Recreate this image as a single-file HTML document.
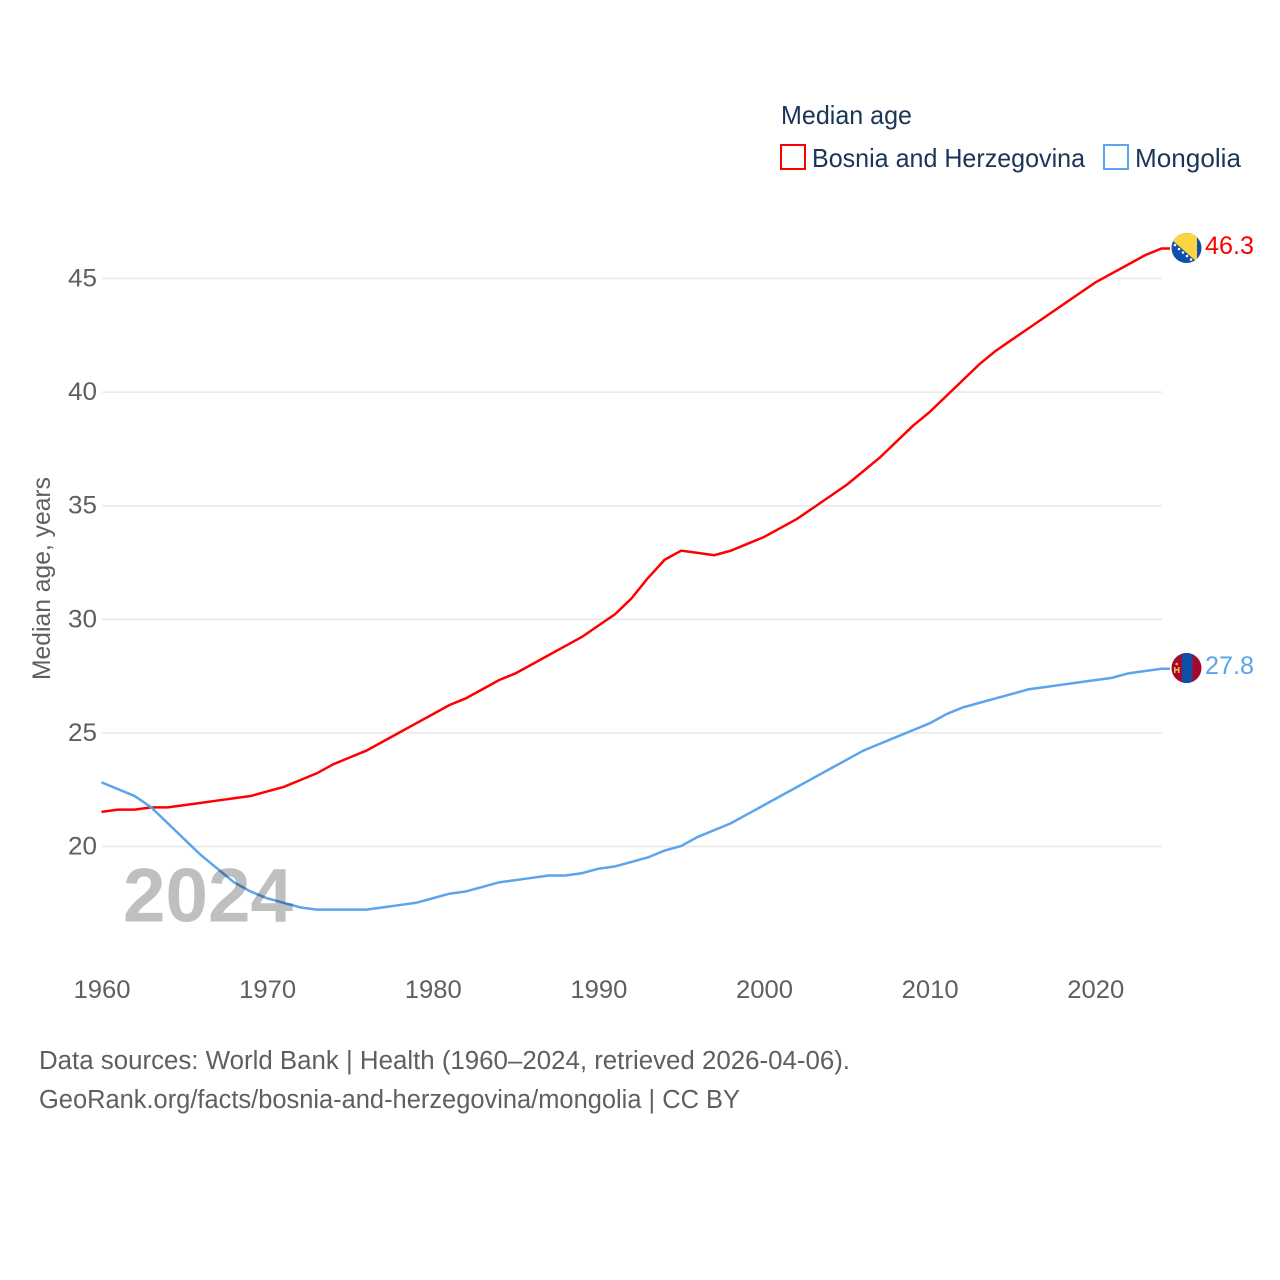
<!DOCTYPE html>
<html lang="en">
<head>
<meta charset="utf-8">
<title>Median age: Bosnia and Herzegovina and Mongolia</title>
<style>
html,body{margin:0;padding:0;background:#fff;}
svg{display:block;font-family:"Liberation Sans",sans-serif;}
</style>
</head>
<body>
<svg id="chart" xmlns="http://www.w3.org/2000/svg" width="1280" height="1280" viewBox="0 0 1280 1280">
  <rect x="0" y="0" width="1280" height="1280" fill="#fff"/>
  <g id="grid"></g>
  <g id="yticks"></g>
  <g id="xticks"></g>
  <text transform="translate(50,680) rotate(-90)" font-size="25" fill="#5f5f5f" textLength="203" lengthAdjust="spacingAndGlyphs">Median age, years</text>
  <g id="series"></g>
  <text x="123" y="921.500" font-size="76" font-weight="bold" fill="#bfbfbf" style="mix-blend-mode:multiply" textLength="170" lengthAdjust="spacingAndGlyphs">2024</text>

  <text x="781" y="124" font-size="26" fill="#1b3557" textLength="131" lengthAdjust="spacingAndGlyphs">Median age</text>
  <g>
    <rect x="781" y="145" width="24" height="24" fill="none" stroke="#ff0000" stroke-width="2"/>
    <text x="812" y="167" font-size="26" fill="#1b3557" textLength="273" lengthAdjust="spacingAndGlyphs">Bosnia and Herzegovina</text>
  </g>
  <g>
    <rect x="1104" y="145" width="24" height="24" fill="none" stroke="#5ba4ee" stroke-width="2"/>
    <text x="1135" y="167" font-size="26" fill="#1b3557" textLength="106" lengthAdjust="spacingAndGlyphs">Mongolia</text>
  </g>

  <defs>
    <clipPath id="clip-ba"><circle cx="1186.500" cy="248" r="15"/></clipPath>
    <clipPath id="clip-mn"><circle cx="1186.500" cy="668" r="15"/></clipPath>
  </defs>
  <g clip-path="url(#clip-ba)">
    <rect x="1171" y="233" width="31" height="30" fill="#0f4fa8"/>
    <polygon points="1172,233 1197,233 1197,262 1172,240" fill="#fdd33f"/>
    <g fill="#fff">
      <circle cx="1175" cy="245" r="1.300"/><circle cx="1179" cy="249" r="1.300"/><circle cx="1183" cy="252.500" r="1.300"/><circle cx="1187" cy="256" r="1.300"/><circle cx="1191" cy="259.500" r="1.300"/>
    </g>
  </g>
  <g clip-path="url(#clip-mn)">
    <rect x="1171" y="653" width="31" height="30" fill="#a50a2c"/>
    <rect x="1182" y="653" width="10.500" height="30" fill="#0f4fa8"/>
    <rect x="1174" y="667" width="1.500" height="6" fill="#e8c05a"/>
    <rect x="1178" y="667" width="1.500" height="6" fill="#e8c05a"/>
    <rect x="1175.500" y="669" width="2.500" height="1.500" fill="#e8c05a"/>
    <circle cx="1176.700" cy="664" r="1.300" fill="#e8c05a"/>
  </g>
  <text x="1205" y="254" font-size="25" fill="#ff0000" textLength="49" lengthAdjust="spacingAndGlyphs">46.3</text>
  <text x="1205" y="674" font-size="25" fill="#5ba4ee" textLength="49" lengthAdjust="spacingAndGlyphs">27.8</text>

  <text x="39" y="1069" font-size="25.500" fill="#5f5f5f" textLength="811" lengthAdjust="spacingAndGlyphs">Data sources: World Bank | Health (1960–2024, retrieved 2026-04-06).</text>
  <text x="39" y="1108" font-size="25.500" fill="#5f5f5f" textLength="701" lengthAdjust="spacingAndGlyphs">GeoRank.org/facts/bosnia-and-herzegovina/mongolia | CC BY</text>
</svg>
<script>
const years = [1960,1961,1962,1963,1964,1965,1966,1967,1968,1969,1970,1971,1972,1973,1974,1975,1976,1977,1978,1979,1980,1981,1982,1983,1984,1985,1986,1987,1988,1989,1990,1991,1992,1993,1994,1995,1996,1997,1998,1999,2000,2001,2002,2003,2004,2005,2006,2007,2008,2009,2010,2011,2012,2013,2014,2015,2016,2017,2018,2019,2020,2021,2022,2023,2024];
const bosniaValues = [21.5,21.6,21.6,21.7,21.7,21.8,21.9,22.0,22.1,22.2,22.4,22.6,22.9,23.2,23.6,23.9,24.2,24.6,25.0,25.4,25.8,26.2,26.5,26.9,27.3,27.6,28.0,28.4,28.8,29.2,29.7,30.2,30.9,31.8,32.6,33.0,32.9,32.8,33.0,33.3,33.6,34.0,34.4,34.9,35.4,35.9,36.5,37.1,37.8,38.5,39.1,39.8,40.5,41.2,41.8,42.3,42.8,43.3,43.8,44.3,44.8,45.2,45.6,46.0,46.3];
const mongoliaValues = [22.8,22.5,22.2,21.7,21.0,20.3,19.6,19.0,18.4,18.0,17.7,17.5,17.3,17.2,17.2,17.2,17.2,17.3,17.4,17.5,17.7,17.9,18.0,18.2,18.4,18.5,18.6,18.7,18.7,18.8,19.0,19.1,19.3,19.5,19.8,20.0,20.4,20.7,21.0,21.4,21.8,22.2,22.6,23.0,23.4,23.8,24.2,24.5,24.8,25.1,25.4,25.8,26.1,26.3,26.5,26.7,26.9,27.0,27.1,27.2,27.3,27.4,27.6,27.7,27.8];
const yTickValues = [20,25,30,35,40,45];
const xTickValues = [1960,1970,1980,1990,2000,2010,2020];

const NS = 'http://www.w3.org/2000/svg';
const xScale = function (year) { return 101.5 + (year - 1960) * 16.5625; };
const yScale = function (value) { return 278.5 + (45 - value) * 22.72; };

const gridGroup = document.getElementById('grid');
const yTickGroup = document.getElementById('yticks');
const xTickGroup = document.getElementById('xticks');
const seriesGroup = document.getElementById('series');

yTickValues.forEach(function (tick) {
  const line = document.createElementNS(NS, 'line');
  
  
  line.setAttribute('x1', 102);
  line.setAttribute('x2', 1162);
  line.setAttribute('y1', yScale(tick));
  line.setAttribute('y2', yScale(tick));
  line.setAttribute('stroke', '#e8e8e8');
  line.setAttribute('stroke-width', 1.5);
  gridGroup.appendChild(line);

  const label = document.createElementNS(NS, 'text');
  
  
  label.setAttribute('x', 97);
  label.setAttribute('y', yScale(tick) + 8);
  label.setAttribute('text-anchor', 'end');
  label.setAttribute('font-size', 25);
  label.setAttribute('fill', '#5f5f5f');
  label.setAttribute('textLength', 29);
  label.setAttribute('lengthAdjust', 'spacingAndGlyphs');
  label.textContent = String(tick);
  yTickGroup.appendChild(label);
});

xTickValues.forEach(function (tick) {
  const label = document.createElementNS(NS, 'text');
  
  
  label.setAttribute('x', xScale(tick) + 0.5);
  label.setAttribute('y', 998);
  label.setAttribute('text-anchor', 'middle');
  label.setAttribute('font-size', 25);
  label.setAttribute('fill', '#5f5f5f');
  label.setAttribute('textLength', 57);
  label.setAttribute('lengthAdjust', 'spacingAndGlyphs');
  label.textContent = String(tick);
  xTickGroup.appendChild(label);
});

function drawSeries(values, color) {
  const points = values.map(function (v, i) {
    return xScale(years[i]).toFixed(2) + ',' + (yScale(v) - 0.5).toFixed(2);
  });
  const lastY = (yScale(values[values.length - 1]) - 0.5).toFixed(2);
  return { d: 'M' + points.join('L'), color: color, lastY: lastY };
}

const bosniaSeries = drawSeries(bosniaValues, '#ff0000');
const bosniaPath = document.createElementNS(NS, 'path');


bosniaPath.setAttribute('d', bosniaSeries.d + 'L1170,' + bosniaSeries.lastY);
bosniaPath.setAttribute('fill', 'none');
bosniaPath.setAttribute('stroke', bosniaSeries.color);
bosniaPath.setAttribute('stroke-width', 2.5);
seriesGroup.appendChild(bosniaPath);

const mongoliaSeries = drawSeries(mongoliaValues, '#5ba4ee');
const mongoliaPath = document.createElementNS(NS, 'path');


mongoliaPath.setAttribute('d', mongoliaSeries.d + 'L1170,' + mongoliaSeries.lastY);
mongoliaPath.setAttribute('fill', 'none');
mongoliaPath.setAttribute('stroke', mongoliaSeries.color);
mongoliaPath.setAttribute('stroke-width', 2.5);
seriesGroup.appendChild(mongoliaPath);
</script>
</body>
</html>
